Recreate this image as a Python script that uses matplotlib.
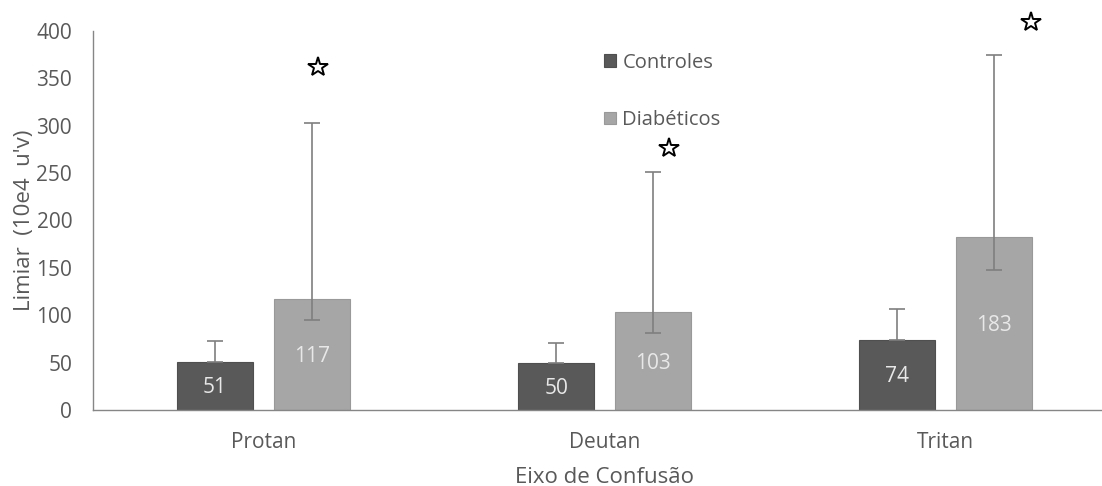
import matplotlib.pyplot as plt
import numpy as np

# eixos de confusão e limiares (mediana) por grupo
eixos = ['Protan', 'Deutan', 'Tritan']
controles = [51, 50, 74]
diabeticos = [117, 103, 183]

# limites das barras de erro
ctrl_sup = [73, 71, 107]
diab_inf = [95, 81, 148]
diab_sup = [303, 251, 375]

# marcadores de significância
estrela_y = [362, 277, 410]
estrela_dx = [0.16, 0.19, 0.25]

cor_ctrl = '#595959'
cor_diab = '#a6a6a6'
cor_texto = '#595959'
cor_erro = '#7f7f7f'

plt.rcParams['font.family'] = ['Open Sans', 'DejaVu Sans']

fig = plt.figure(figsize=(11.02, 4.86), dpi=100)
ax = fig.add_axes([0.0844, 0.1564, 0.9283, 0.7798])

x = np.arange(len(eixos))
w = 0.223
off = 0.142

b1 = ax.bar(x - off, controles, w, color=cor_ctrl, edgecolor='#4f4f4f',
            linewidth=0.8, label='Controles', zorder=2)
b2 = ax.bar(x + off, diabeticos, w, color=cor_diab, edgecolor='#999999',
            linewidth=0.8, label='Diabéticos', zorder=2)

# barras de erro (só a parte superior nos controles)
ctrl_err = [np.zeros(3), np.array(ctrl_sup) - np.array(controles)]
diab_err = [np.array(diabeticos) - np.array(diab_inf),
            np.array(diab_sup) - np.array(diabeticos)]
ax.errorbar(x - off, controles, yerr=ctrl_err, fmt='none', ecolor=cor_erro,
            elinewidth=1.2, capsize=5.5, capthick=1.2, zorder=3)
ax.errorbar(x + off, diabeticos, yerr=diab_err, fmt='none', ecolor=cor_erro,
            elinewidth=1.2, capsize=5.5, capthick=1.2, zorder=3)

for bars, vals in [(b1, controles), (b2, diabeticos)]:
    for rect, v in zip(bars, vals):
        ax.text(rect.get_x() + rect.get_width() / 2, v / 2 - 2, str(v),
                ha='center', va='center', color='#e8e8e8', fontsize=15,
                zorder=4)

ax.plot(x + np.array(estrela_dx), estrela_y, linestyle='none', marker='*',
        markersize=15, markerfacecolor='white', markeredgecolor='black',
        markeredgewidth=1.4, clip_on=False, zorder=5)

ax.set_xlim(-0.5, 2.5)
ax.set_ylim(0, 400)
ax.set_yticks(np.arange(0, 401, 50))
ax.set_xticks(x)
ax.set_xticklabels(eixos)

for s in ['top', 'right']:
    ax.spines[s].set_visible(False)
for s in ['left', 'bottom']:
    ax.spines[s].set_color('#868686')
    ax.spines[s].set_linewidth(1.0)

ax.tick_params(axis='y', length=0, pad=15, labelsize=15, labelcolor=cor_texto)
ax.tick_params(axis='x', length=0, pad=16, labelsize=15, labelcolor=cor_texto)

ax.set_ylabel("Limiar  (10e4  u'v)", fontsize=16, color=cor_texto, labelpad=1)
ax.set_xlabel('Eixo de Confusão', fontsize=16, color=cor_texto, labelpad=10)

ax.legend(loc='upper left', bbox_to_anchor=(0.482, 0.99), frameon=False,
          fontsize=14.5, labelcolor=cor_texto, handlelength=0.6,
          handleheight=0.6, handletextpad=0.3, labelspacing=1.85)

fig.savefig('out.png', dpi=100)
